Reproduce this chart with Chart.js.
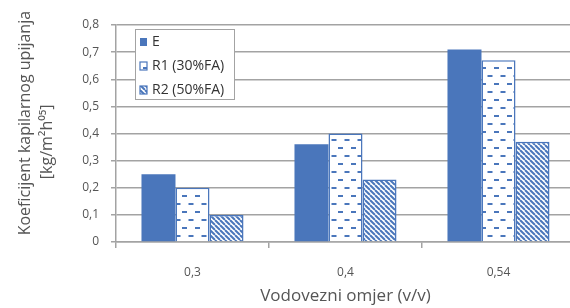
<!DOCTYPE html>
<html><head><meta charset="utf-8">
<script src="https://cdn.jsdelivr.net/npm/chart.js@4/dist/chart.umd.min.js"></script>
<style>
html,body{margin:0;padding:0;background:#fff;overflow:hidden}
#wrap{width:570px;height:308px;overflow:hidden;position:relative}
canvas{display:block}
</style></head><body>
<div id="wrap"><canvas id="c" width="580" height="308"></canvas></div>
<script>
const categories = ['0,3', '0,4', '0,54'];
const seriesLabels = ['E', 'R1 (30%FA)', 'R2 (50%FA)'];
const valuesE  = [0.25, 0.36, 0.71];
const valuesR1 = [0.20, 0.40, 0.67];
const valuesR2 = [0.10, 0.23, 0.37];
const yTicks = [0, 0.1, 0.2, 0.3, 0.4, 0.5, 0.6, 0.7, 0.8];
const yTitle = ['     Koeficijent kapilarnog upijanja', '[kg/m²h⁰⁵]    '];
const xTitle = 'Vodovezni omjer (v/v)';

const BLUE = '#4a76bb';
const GRID = '#a3a3a3';
const TXT = '#555555';
const FONT = "'Open Sans', sans-serif";

function dashPattern(){
  const t = document.createElement('canvas'); t.width = 13; t.height = 16;
  const g = t.getContext('2d');
  g.fillStyle = '#fff'; g.fillRect(0,0,13,16);
  g.fillStyle = BLUE;
  g.fillRect(0,3,5,2);
  g.fillRect(6.5,11,5,2);
  return g.createPattern(t,'repeat');
}
function stripePattern(){
  const s = 5;
  const t = document.createElement('canvas'); t.width = s; t.height = s;
  const g = t.getContext('2d');
  g.fillStyle = '#fff'; g.fillRect(0,0,s,s);
  g.strokeStyle = BLUE; g.lineWidth = 2;
  for (const k of [-s,0,s]) { g.beginPath(); g.moveTo(k,0); g.lineTo(k+s,s); g.stroke(); }
  return g.createPattern(t,'repeat');
}
const ctx = document.getElementById('c').getContext('2d');
const patR1 = dashPattern();
const patR2 = stripePattern();

const legendBox = {
  id: 'legendBox',
  afterDatasetsDraw(chart){
    const c = chart.ctx;
    const x0 = 135, y0 = 29, w = 99, h = 70;
    c.save();
    c.fillStyle = '#fff'; c.fillRect(x0,y0,w,h);
    c.strokeStyle = GRID; c.lineWidth = 1; c.strokeRect(x0+0.5,y0+0.5,w,h);
    c.font = '14px ' + FONT; c.textBaseline = 'middle';
    chart.data.datasets.forEach((ds,i)=>{
      const yc = 42 + i*24;
      c.fillStyle = ds.backgroundColor;
      c.fillRect(140, yc-4, 7, 8);
      if (ds.borderWidth) { c.strokeStyle = ds.borderColor; c.lineWidth = 1.2; c.strokeRect(140, yc-4, 7, 8); }
      c.fillStyle = '#333';
      c.fillText(ds.label, 152, yc+0.5);
    });
    c.restore();
  }
};

new Chart(ctx, {
  type: 'bar',
  data: {
    labels: categories,
    datasets: [
      {label: seriesLabels[0], data: valuesE, backgroundColor: BLUE, borderWidth: 0},
      {label: seriesLabels[1], data: valuesR1, backgroundColor: patR1, borderColor: BLUE, borderWidth: 1.5},
      {label: seriesLabels[2], data: valuesR2, backgroundColor: patR2, borderColor: BLUE, borderWidth: 1.5}
    ]
  },
  options: {
    responsive: false,
    animation: false,
    devicePixelRatio: 1,
    layout: {padding: {top: 25, right: 5, left: 0, bottom: 0}},
    datasets: {bar: {categoryPercentage: 0.667, barPercentage: 1}},
    plugins: {legend: {display: false}, tooltip: {enabled: false}},
    scales: {
      x: {
        grid: {offset: true, drawOnChartArea: false, tickLength: 6, color: GRID, lineWidth: 1.5},
        border: {display: true, color: GRID, width: 1.5},
        ticks: {color: TXT, font: {family: FONT, size: 12}, padding: 17},
        title: {display: true, text: xTitle, color: TXT, font: {family: FONT, size: 17}, padding: {top: 0, bottom: 2}},
        afterFit(s){ s.height = 66; }
      },
      y: {
        min: 0, max: 0.8,
        afterBuildTicks(s){ s.ticks = yTicks.map(v=>({value: v})); },
        grid: {color: GRID, lineWidth: 1.5, tickLength: 5},
        border: {display: true, color: GRID, width: 1.5},
        ticks: {color: TXT, font: {family: FONT, size: 12}, padding: 12,
          callback: v => v === 0 ? '0' : v.toFixed(1).replace('.', ',')},
        title: {display: true, text: yTitle, color: TXT, font: {family: FONT, size: 16, lineHeight: 1.375}, padding: {top: 14, bottom: 0}},
        afterFit(s){ s.width = 116; }
      }
    }
  },
  plugins: [legendBox]
});
</script>
</body></html>
